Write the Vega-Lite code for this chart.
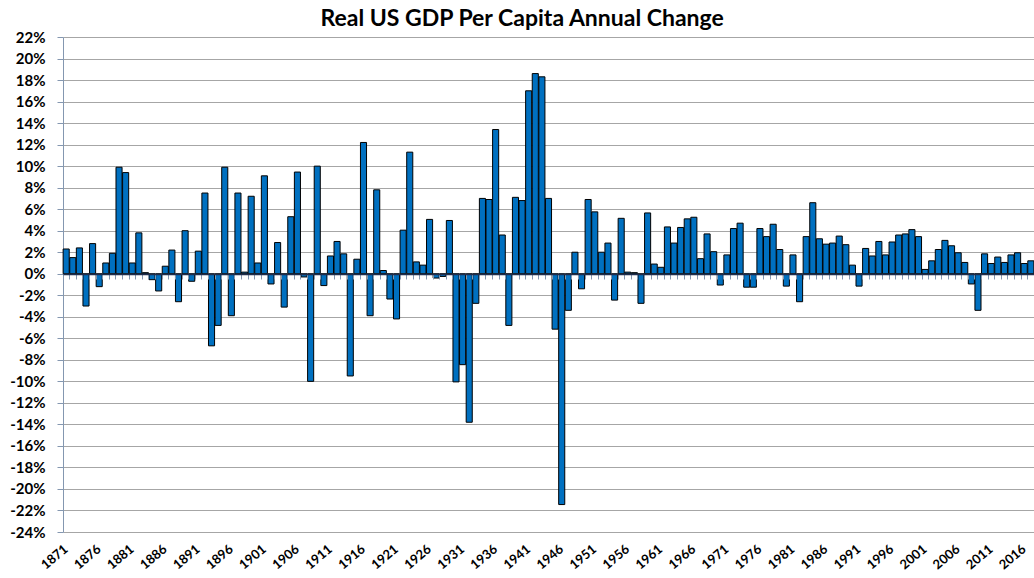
{
  "$schema": "https://vega.github.io/schema/vega-lite/v6.json",
  "width": 971,
  "height": 495,
  "autosize": {"type": "none"},
  "padding": {"left": 63, "top": 37, "right": 0, "bottom": 46},
  "background": "white",
  "config": {
    "font": "Lato",
    "view": {"stroke": null},
    "axis": {"labelFont": "Lato", "labelFontWeight": "bold", "labelColor": "#000000"}
  },
  "title": {
    "text": "Real US GDP Per Capita Annual Change",
    "font": "Lato",
    "fontSize": 23,
    "fontWeight": "bold",
    "color": "#000000",
    "anchor": "middle",
    "frame": "bounds",
    "offset": -1
  },
  "data": {
    "values": [
      {"year": 1871, "change": 2.3}, {"year": 1872, "change": 1.5}, {"year": 1873, "change": 2.4}, {"year": 1874, "change": -3.0}, {"year": 1875, "change": 2.8},
      {"year": 1876, "change": -1.2}, {"year": 1877, "change": 1.0}, {"year": 1878, "change": 1.9}, {"year": 1879, "change": 9.9}, {"year": 1880, "change": 9.4},
      {"year": 1881, "change": 1.0}, {"year": 1882, "change": 3.8}, {"year": 1883, "change": 0.1}, {"year": 1884, "change": -0.55}, {"year": 1885, "change": -1.6},
      {"year": 1886, "change": 0.7}, {"year": 1887, "change": 2.2}, {"year": 1888, "change": -2.6}, {"year": 1889, "change": 4.0}, {"year": 1890, "change": -0.7},
      {"year": 1891, "change": 2.1}, {"year": 1892, "change": 7.5}, {"year": 1893, "change": -6.7}, {"year": 1894, "change": -4.8}, {"year": 1895, "change": 9.9},
      {"year": 1896, "change": -3.9}, {"year": 1897, "change": 7.5}, {"year": 1898, "change": 0.15}, {"year": 1899, "change": 7.2}, {"year": 1900, "change": 1.0},
      {"year": 1901, "change": 9.1}, {"year": 1902, "change": -0.95}, {"year": 1903, "change": 2.9}, {"year": 1904, "change": -3.1}, {"year": 1905, "change": 5.3},
      {"year": 1906, "change": 9.45}, {"year": 1907, "change": -0.3}, {"year": 1908, "change": -10.0}, {"year": 1909, "change": 10.0}, {"year": 1910, "change": -1.1},
      {"year": 1911, "change": 1.65}, {"year": 1912, "change": 3.0}, {"year": 1913, "change": 1.85}, {"year": 1914, "change": -9.5}, {"year": 1915, "change": 1.35},
      {"year": 1916, "change": 12.2}, {"year": 1917, "change": -3.9}, {"year": 1918, "change": 7.8}, {"year": 1919, "change": 0.3}, {"year": 1920, "change": -2.35},
      {"year": 1921, "change": -4.2}, {"year": 1922, "change": 4.05}, {"year": 1923, "change": 11.3}, {"year": 1924, "change": 1.1}, {"year": 1925, "change": 0.8},
      {"year": 1926, "change": 5.05}, {"year": 1927, "change": -0.4}, {"year": 1928, "change": -0.25}, {"year": 1929, "change": 4.95}, {"year": 1930, "change": -10.05},
      {"year": 1931, "change": -8.45}, {"year": 1932, "change": -13.8}, {"year": 1933, "change": -2.75}, {"year": 1934, "change": 7.0}, {"year": 1935, "change": 6.9},
      {"year": 1936, "change": 13.4}, {"year": 1937, "change": 3.6}, {"year": 1938, "change": -4.8}, {"year": 1939, "change": 7.1}, {"year": 1940, "change": 6.8},
      {"year": 1941, "change": 17.0}, {"year": 1942, "change": 18.6}, {"year": 1943, "change": 18.3}, {"year": 1944, "change": 7.0}, {"year": 1945, "change": -5.15},
      {"year": 1946, "change": -21.45}, {"year": 1947, "change": -3.4}, {"year": 1948, "change": 2.0}, {"year": 1949, "change": -1.4}, {"year": 1950, "change": 6.9},
      {"year": 1951, "change": 5.75}, {"year": 1952, "change": 2.0}, {"year": 1953, "change": 2.85}, {"year": 1954, "change": -2.45}, {"year": 1955, "change": 5.15},
      {"year": 1956, "change": 0.15}, {"year": 1957, "change": 0.1}, {"year": 1958, "change": -2.75}, {"year": 1959, "change": 5.65}, {"year": 1960, "change": 0.9},
      {"year": 1961, "change": 0.6}, {"year": 1962, "change": 4.35}, {"year": 1963, "change": 2.85}, {"year": 1964, "change": 4.3}, {"year": 1965, "change": 5.1},
      {"year": 1966, "change": 5.25}, {"year": 1967, "change": 1.4}, {"year": 1968, "change": 3.7}, {"year": 1969, "change": 2.05}, {"year": 1970, "change": -1.05},
      {"year": 1971, "change": 1.75}, {"year": 1972, "change": 4.2}, {"year": 1973, "change": 4.7}, {"year": 1974, "change": -1.25}, {"year": 1975, "change": -1.25},
      {"year": 1976, "change": 4.2}, {"year": 1977, "change": 3.45}, {"year": 1978, "change": 4.6}, {"year": 1979, "change": 2.25}, {"year": 1980, "change": -1.15},
      {"year": 1981, "change": 1.75}, {"year": 1982, "change": -2.6}, {"year": 1983, "change": 3.45}, {"year": 1984, "change": 6.6}, {"year": 1985, "change": 3.25},
      {"year": 1986, "change": 2.75}, {"year": 1987, "change": 2.85}, {"year": 1988, "change": 3.5}, {"year": 1989, "change": 2.7}, {"year": 1990, "change": 0.8},
      {"year": 1991, "change": -1.15}, {"year": 1992, "change": 2.35}, {"year": 1993, "change": 1.65}, {"year": 1994, "change": 3.0}, {"year": 1995, "change": 1.75},
      {"year": 1996, "change": 2.95}, {"year": 1997, "change": 3.6}, {"year": 1998, "change": 3.7}, {"year": 1999, "change": 4.1}, {"year": 2000, "change": 3.45},
      {"year": 2001, "change": 0.4}, {"year": 2002, "change": 1.2}, {"year": 2003, "change": 2.25}, {"year": 2004, "change": 3.1}, {"year": 2005, "change": 2.6},
      {"year": 2006, "change": 1.95}, {"year": 2007, "change": 1.05}, {"year": 2008, "change": -0.95}, {"year": 2009, "change": -3.4}, {"year": 2010, "change": 1.85},
      {"year": 2011, "change": 0.95}, {"year": 2012, "change": 1.55}, {"year": 2013, "change": 1.05}, {"year": 2014, "change": 1.75}, {"year": 2015, "change": 1.95},
      {"year": 2016, "change": 0.95}, {"year": 2017, "change": 1.2}
    ]
  },
  "encoding": {
    "y": {
      "field": "change",
      "type": "quantitative",
      "scale": {"domain": [-24, 22], "nice": false, "zero": false},
      "axis": {
        "title": null,
        "values": [-24, -22, -20, -18, -16, -14, -12, -10, -8, -6, -4, -2, 0, 2, 4, 6, 8, 10, 12, 14, 16, 18, 20, 22],
        "labelExpr": "datum.value + '%'",
        "labelFontSize": 15,
        "labelPadding": 12,
        "labelOverlap": false,
        "tickSize": 6,
        "tickColor": "#8497b0",
        "domainColor": "#8497b0",
        "grid": true,
        "gridColor": "#a6a6a6",
        "gridWidth": 1
      }
    }
  },
  "layer": [
    {
      "mark": {"type": "bar", "color": "#0070c0", "stroke": "#000000", "strokeWidth": 1},
      "encoding": {
        "x": {
          "field": "year",
          "type": "ordinal",
          "scale": {"paddingInner": 0.08, "paddingOuter": 0.02},
          "axis": {
            "title": null,
            "values": [1871, 1876, 1881, 1886, 1891, 1896, 1901, 1906, 1911, 1916, 1921, 1926, 1931, 1936, 1941, 1946, 1951, 1956, 1961, 1966, 1971, 1976, 1981, 1986, 1991, 1996, 2001, 2006, 2011, 2016],
            "labelAngle": -40,
            "labelAlign": "right",
            "labelBaseline": "middle",
            "labelFontSize": 13,
            "labelPadding": 15,
            "labelOverlap": false,
            "domain": false,
            "ticks": false,
            "grid": false
          }
        }
      }
    },
    {
      "mark": {"type": "bar", "opacity": 0},
      "encoding": {
        "x": {
          "field": "year",
          "type": "ordinal",
          "axis": {
            "orient": "bottom",
            "offset": -258,
            "title": null,
            "labels": false,
            "ticks": true,
            "tickBand": "extent",
            "tickSize": 5,
            "tickColor": "#8497b0",
            "domain": true,
            "domainColor": "#1f2d4d",
            "domainWidth": 1.5,
            "grid": false,
            "zindex": 1
          }
        }
      }
    }
  ],
  "resolve": {"axis": {"x": "independent"}}
}
